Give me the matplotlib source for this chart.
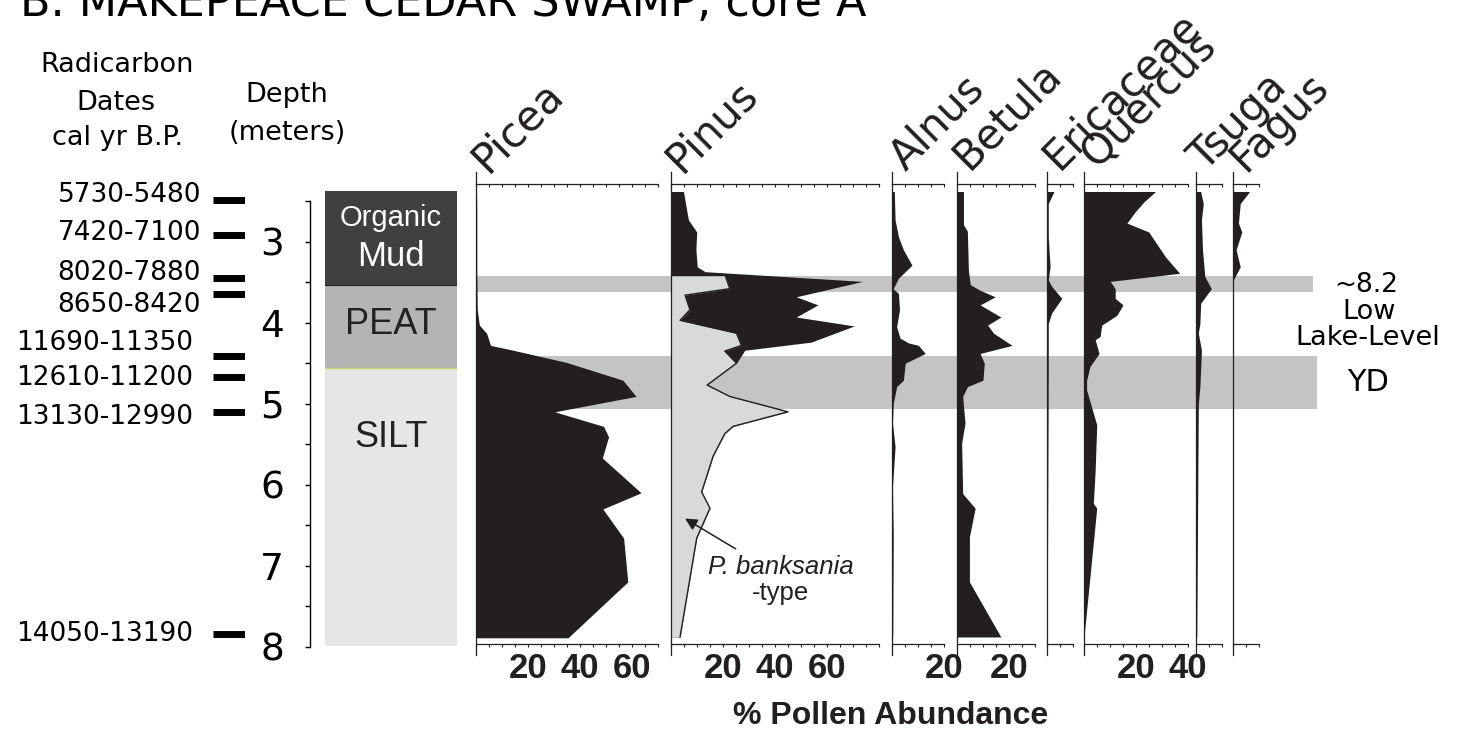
import matplotlib
matplotlib.use("Agg")
import matplotlib.pyplot as plt
import numpy as np

plt.rcParams['font.family'] = ['DejaVu Sans']
ARIAL = ['Liberation Sans', 'DejaVu Sans']
NARROW = ['Liberation Sans Narrow', 'Liberation Sans', 'DejaVu Sans']

W, H = 1465, 751
INK = '#231f20'

# ---------------- data ----------------
taxa = ["Picea", "Pinus", "Alnus", "Betula", "Ericaceae", "Quercus", "Tsuga", "Fagus"]
taxa_max = [70, 80, 20, 30, 10, 40, 10, 10]
taxa_ticklabels = [[20, 40, 60], [20, 40, 60], [20], [20], [], [20, 40], [], []]

picea_depth = [2.38, 2.53, 3.35, 3.84, 4.03, 4.13, 4.28, 4.34, 4.49, 4.71, 4.91,
               5.10, 5.28, 5.41, 5.67, 6.10, 6.30, 6.66, 7.20, 7.89]
picea_pct = [0.3, 0.4, 0.4, 0.6, 1.4, 4.2, 5.7, 14.4, 34.9, 56.6, 61.7,
             30.4, 49.2, 51.1, 48.7, 63.6, 48.9, 56.9, 58.5, 35.5]

pinus_depth = [2.38, 2.73, 2.88, 3.10, 3.31, 3.37, 3.49, 3.68, 3.78, 3.93, 4.04,
               4.24, 4.34, 4.50, 4.77, 4.91, 5.10, 5.28, 5.37, 5.65, 6.09, 6.29,
               6.66, 7.88]
pinus_pct = [4.9, 6.8, 10.0, 9.7, 10.2, 13.2, 73.8, 48.3, 56.6, 48.3, 70.6,
             54.0, 28.5, 25.3, 14.0, 22.7, 45.1, 24.0, 20.8, 16.3, 11.9, 15.1,
             10.0, 3.6]

banks_depth = [3.42, 3.58, 3.66, 3.84, 3.97, 4.13, 4.28, 4.35, 4.50, 4.77, 4.91,
               5.10, 5.28, 5.37, 5.65, 6.09, 6.29, 6.66, 7.88]
banks_pct = [21.0, 22.7, 5.5, 7.4, 3.6, 25.3, 27.2, 20.8, 25.3, 14.0, 22.7,
             45.1, 24.0, 20.8, 16.3, 11.9, 15.1, 10.0, 3.6]

alnus_depth = [2.38, 2.73, 2.94, 3.10, 3.29, 3.45, 3.58, 3.64, 3.84, 4.05, 4.19,
               4.25, 4.28, 4.38, 4.50, 4.71, 4.79, 5.00, 5.24, 5.53, 6.03, 6.64, 7.88]
alnus_pct = [1.0, 1.3, 2.6, 4.5, 7.8, 2.6, 0.6, 2.6, 3.0, 1.9, 3.2,
             6.5, 10.3, 12.9, 5.2, 4.5, 1.9, 0.6, 0.3, 1.3, 0.3, 0.6, 0.4]

betula_depth = [2.38, 2.79, 2.87, 3.35, 3.53, 3.60, 3.68, 3.78, 3.93, 4.03, 4.13,
                4.28, 4.38, 4.50, 4.71, 4.79, 4.91, 5.24, 5.49, 6.11, 6.29, 6.64,
                7.20, 7.88]
betula_pct = [2.6, 2.6, 4.1, 4.5, 5.2, 9.0, 14.8, 9.0, 17.0, 11.9, 14.2,
              21.3, 9.0, 10.6, 10.1, 4.1, 2.3, 3.2, 1.9, 2.3, 7.1, 4.9,
              4.9, 17.0]

erica_depth = [2.38, 2.53, 2.94, 3.31, 3.47, 3.55, 3.70, 3.88, 4.01, 4.58, 7.88]
erica_pct = [2.8, 0.6, 0.6, 1.3, 0.6, 1.9, 5.8, 1.9, 0.6, 0.6, 0.2]

quercus_depth = [2.38, 2.51, 2.63, 2.77, 2.88, 3.19, 3.39, 3.49, 3.58, 3.70, 3.78,
                 3.91, 4.03, 4.17, 4.21, 4.38, 4.54, 4.71, 4.83, 5.26, 5.82, 6.23,
                 6.29, 7.88]
quercus_pct = [27.5, 23.0, 19.7, 16.5, 24.9, 31.4, 36.8, 10.1, 12.0, 12.0, 15.0,
               12.6, 6.8, 6.2, 4.3, 5.8, 2.3, 1.0, 1.0, 4.9, 4.3, 3.6,
               4.9, 0.0]

tsuga_depth = [2.38, 2.53, 2.73, 3.10, 3.43, 3.58, 3.76, 4.01, 4.13, 4.34, 4.79, 5.00, 7.88]
tsuga_pct = [1.8, 2.8, 2.1, 2.5, 3.4, 5.9, 1.8, 1.5, 0.9, 2.1, 1.5, 0.9, 0.3]

fagus_depth = [2.38, 2.53, 2.77, 2.88, 3.10, 3.31, 3.47, 5.00, 7.88]
fagus_pct = [6.5, 2.9, 2.2, 3.5, 1.3, 2.9, 0.3, 0.3, 0.0]

series = [(picea_depth, picea_pct), (pinus_depth, pinus_pct),
          (alnus_depth, alnus_pct), (betula_depth, betula_pct),
          (erica_depth, erica_pct), (quercus_depth, quercus_pct),
          (tsuga_depth, tsuga_pct), (fagus_depth, fagus_pct)]

date_labels = ["5730-5480", "7420-7100", "8020-7880", "8650-8420",
               "11690-11350", "12610-11200", "13130-12990", "14050-13190"]
date_depths = [2.49, 2.92, 3.45, 3.65, 4.41, 4.67, 5.10, 7.84]

litho_top = [2.37, 3.53, 4.56]
litho_base = [3.53, 4.56, 8.0]
litho_colors = ['#404040', '#b4b4b4', '#e6e6e6']

event_top = [3.42, 4.41]      # ~8.2 ka low lake level, Younger Dryas
event_base = [3.62, 5.07]

# ---------------- layout helpers (pixel geometry of the original) ----------------
fig = plt.figure(figsize=(W / 100, H / 100), dpi=100)


def ypx(d):
    return 241.7 + (d - 3.0) * 81.0


def depth_at(y):
    return 3.0 + (y - 241.7) / 81.0


def add_ax(x0, x1, y0, y1):
    ax = fig.add_axes([x0 / W, 1 - y1 / H, (x1 - x0) / W, (y1 - y0) / H])
    ax.set_ylim(depth_at(y1), depth_at(y0))
    ax.patch.set_alpha(0)
    return ax


def ftext(x, y, s, **kw):
    return fig.text(x / W, 1 - y / H, s, **kw)


PX_PER_PCT = 2.6
panel_left = [475.7, 670.7, 891.7, 956.7, 1046.7, 1084.0, 1196.0, 1232.7]
name_dx = [12, 11, 14, 12, 12, 13, 9, 13]
name_dy = [174, 174, 172, 171, 171, 169, 173, 173]
TOP, BOT = 184, 644

# event bands behind the pollen panels
band_ax = add_ax(476, 1317, TOP, BOT)
band_ax.set_xlim(0, 1)
band_ax.set_axis_off()
band_ends = [(1313 - 476) / (1317 - 476), 1.0]
for t, b, e in zip(event_top, event_base, band_ends):
    band_ax.axhspan(t, b, xmin=0, xmax=e, color='#c4c4c4', lw=0)

# pollen panels
for i, name in enumerate(taxa):
    x0 = panel_left[i]
    x1 = x0 + taxa_max[i] * PX_PER_PCT
    ax = add_ax(x0, x1, TOP, BOT)
    ax.set_xlim(0, taxa_max[i])
    d, p = series[i]
    ax.fill_betweenx(d, 0, p, color=INK, lw=0)
    if name == "Pinus":
        ax.fill_betweenx(banks_depth, 0, banks_pct, color='#d9d9d9', lw=0)
        ax.plot(banks_pct, banks_depth, color=INK, lw=1.0)
        ax.annotate('', xy=(4.6, 6.40), xytext=(25.9, 6.81),
                    arrowprops=dict(arrowstyle='-|>', color=INK, lw=1.1,
                                    mutation_scale=18))
        ax.text(42.3, 7.01, 'P. banksania', family=ARIAL, style='italic',
                fontsize=18.5, ha='center', va='center', color=INK)
        ax.text(42.3, 7.34, '-type', family=ARIAL, fontsize=18.5,
                ha='center', va='center', color=INK)

    for s in ['left', 'right', 'top']:
        ax.spines[s].set_visible(False)
    ax.spines['bottom'].set_color(INK)
    ax.spines['bottom'].set_linewidth(0.9)
    ax.plot([0, 0], [depth_at(655), depth_at(172)], color=INK, lw=0.9,
            clip_on=False)
    ax.set_yticks([])
    ticks = list(range(0, taxa_max[i] + 1, 5))
    ax.set_xticks(ticks)
    ax.set_xticklabels([str(t) if t in taxa_ticklabels[i] else '' for t in ticks],
                       family=NARROW, fontweight='bold', fontsize=25, color=INK)
    ax.tick_params(axis='x', direction='out', length=2.4, width=0.8,
                   color=INK, pad=3)
    sec = ax.secondary_xaxis('top')
    sec.set_xticks(ticks)
    sec.tick_params(direction='in', length=2.4, width=0.8, color=INK,
                    labeltop=False)
    sec.spines['top'].set_color(INK)
    sec.spines['top'].set_linewidth(0.9)

    ftext(x0 + name_dx[i], name_dy[i], name, fontsize=30, rotation=45,
          rotation_mode='anchor', ha='left', va='baseline', color=INK)

# depth scale
dax = add_ax(310, 320, ypx(2.5), ypx(8.0))
for s in ['right', 'top', 'bottom']:
    dax.spines[s].set_visible(False)
dax.spines['left'].set_linewidth(1.0)
dax.set_xticks([])
dticks = np.arange(2.5, 8.01, 0.5)
dax.set_yticks(dticks)
dax.set_yticklabels([f'{t:g}' if t == int(t) else '' for t in dticks], fontsize=27)
dax.tick_params(axis='y', direction='out', length=3.6, width=1.0, pad=15)

# lithology column
lax = add_ax(325, 457, TOP, 646)
lax.set_xlim(0, 1)
lax.set_axis_off()
for t, b, c in zip(litho_top, litho_base, litho_colors):
    lax.axhspan(t, b, color=c, lw=0)
lax.axhline(litho_base[0], color='#222222', lw=0.8)
lax.axhline(litho_base[1], color='#c5d86d', lw=1.0)
lax.text(0.5, depth_at(218), 'Organic', family=ARIAL, fontsize=21,
         color='white', ha='center', va='center')
lax.text(0.5, depth_at(257), 'Mud', family=ARIAL, fontsize=25,
         color='white', ha='center', va='center')
lax.text(0.5, depth_at(325), 'PEAT', family=ARIAL, fontsize=26,
         color='#222222', ha='center', va='center')
lax.text(0.5, depth_at(438), 'SILT', family=ARIAL, fontsize=26,
         color='#222222', ha='center', va='center')

# radiocarbon dates
tax = add_ax(213, 245, TOP, 646)
tax.set_xlim(0, 1)
tax.set_axis_off()
tax.hlines(date_depths, 0, 1, color='black', lw=5.0)
label_shift = [-5, -2, -5, 11, -13, 1, 5, 0]
for lab, d, sh in zip(date_labels, date_depths, label_shift):
    xr = 201 if len(lab) < 11 else 193
    ftext(xr, ypx(d) + sh, lab, fontsize=19, ha='right', va='center')

# headers
ftext(20, 16, 'B. MAKEPEACE CEDAR SWAMP, core A', fontsize=32,
      ha='left', va='baseline')
ftext(117, 65, 'Radicarbon', fontsize=19.5, ha='center', va='center')
ftext(116, 103, 'Dates', fontsize=19.5, ha='center', va='center')
ftext(118, 138, 'cal yr B.P.', fontsize=19.5, ha='center', va='center')
ftext(287, 95, 'Depth', fontsize=19.5, ha='center', va='center')
ftext(287, 133, '(meters)', fontsize=19.5, ha='center', va='center')

ftext(1366, 285, '~8.2', fontsize=19, ha='center', va='center')
ftext(1369, 312, 'Low', fontsize=19.5, ha='center', va='center')
ftext(1368, 338, 'Lake-Level', fontsize=19.5, ha='center', va='center')
ftext(1368, 382, 'YD', fontsize=22, ha='center', va='center')

ftext(891, 716, '% Pollen Abundance', family=ARIAL, fontweight='bold',
      fontsize=23, ha='center', va='center', color=INK)

fig.savefig('out.png', dpi=100)
